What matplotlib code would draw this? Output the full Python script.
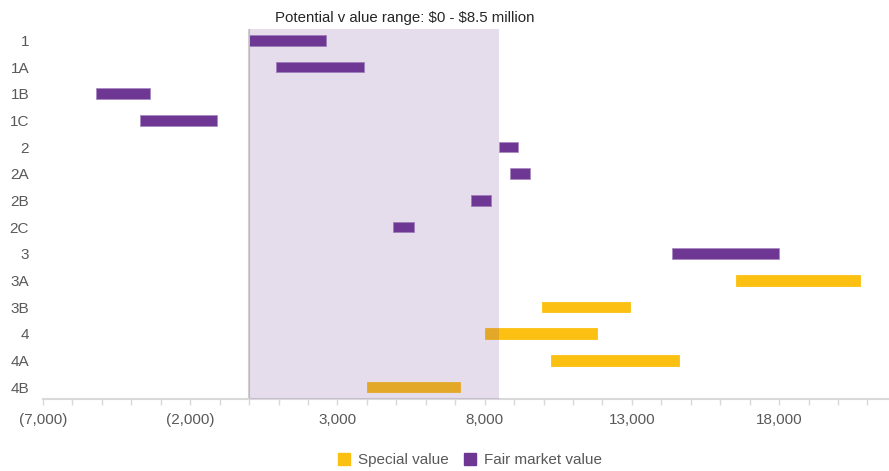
import matplotlib.pyplot as plt
import matplotlib.ticker as mticker
from matplotlib.patches import Patch

plt.rcParams["font.family"] = ["Liberation Sans Narrow", "Liberation Sans", "DejaVu Sans"]

# Value ranges ($000)
categories = ["1", "1A", "1B", "1C", "2", "2A", "2B", "2C",
              "3", "3A", "3B", "4", "4A", "4B"]
low = [0, 900, -5200, -3700, 8500, 8850, 7550, 4900,
       14350, 16550, 9950, 8000, 10250, 4000]
high = [2600, 3900, -3350, -1100, 9150, 9550, 8200, 5600,
        18000, 20750, 12950, 11800, 14600, 7150]
series = ["Fair market value"] * 9 + ["Special value"] * 5

range_low, range_high = 0, 8500
title = r"Potential v alue range: \$0 - \$8.5 million"

PURPLE = "#6E3794"
ORANGE = "#FBC012"
GREY = "#595959"
colors = {"Fair market value": PURPLE, "Special value": ORANGE}

fig = plt.figure(figsize=(8.89, 4.71), dpi=100)
ax = fig.add_axes([43 / 889, 1 - 399 / 471, 845 / 889, 370 / 471])

ypos = list(range(len(categories)))
for y, lo, hi, s in zip(ypos, low, high, series):
    ax.barh(y, hi - lo, left=lo, height=0.4, color=colors[s],
            edgecolor="#A88CC0" if s == "Fair market value" else colors[s],
            linewidth=0.6, zorder=2)

# shaded potential range drawn on top with transparency
ax.axvspan(range_low, range_high, color=PURPLE, alpha=0.17, lw=0, zorder=3)
ax.axvline(0, color="#D0D0D0", lw=1.5, zorder=2.5)

ax.set_xlim(-7000, 21700)
ax.set_ylim(13.45, -0.43)
ax.set_yticks(ypos)
ax.set_yticklabels(categories)

ax.xaxis.set_major_locator(mticker.FixedLocator(range(-7000, 21001, 5000)))
ax.xaxis.set_minor_locator(mticker.FixedLocator(range(-7000, 21001, 1000)))


def fmt(v, pos):
    return "({:,.0f})".format(-v) if v < 0 else "{:,.0f}".format(v)


ax.xaxis.set_major_formatter(mticker.FuncFormatter(fmt))

for side in ["top", "right", "left"]:
    ax.spines[side].set_visible(False)
ax.spines["bottom"].set_color("#D9D9D9")
ax.spines["bottom"].set_linewidth(1.5)

ax.tick_params(axis="y", length=0, pad=10, labelsize=11, labelcolor=GREY)
ax.tick_params(axis="x", which="both", length=4, width=1, color="#D9D9D9",
               labelsize=11, labelcolor=GREY, pad=6)

fig.text(405 / 889, 1 - 18 / 471, title, ha="center", va="center",
         fontsize=10.8, color="#262626")

handles = [Patch(color=ORANGE, label="Special value"),
           Patch(color=PURPLE, label="Fair market value")]
fig.legend(handles=handles, loc="center", bbox_to_anchor=(470 / 889, 1 - 460 / 471),
           ncol=2, frameon=False, fontsize=11, labelcolor=GREY,
           handlelength=0.8, handleheight=0.8, handletextpad=0.5, columnspacing=1.0)

fig.savefig("out.png", dpi=100)
